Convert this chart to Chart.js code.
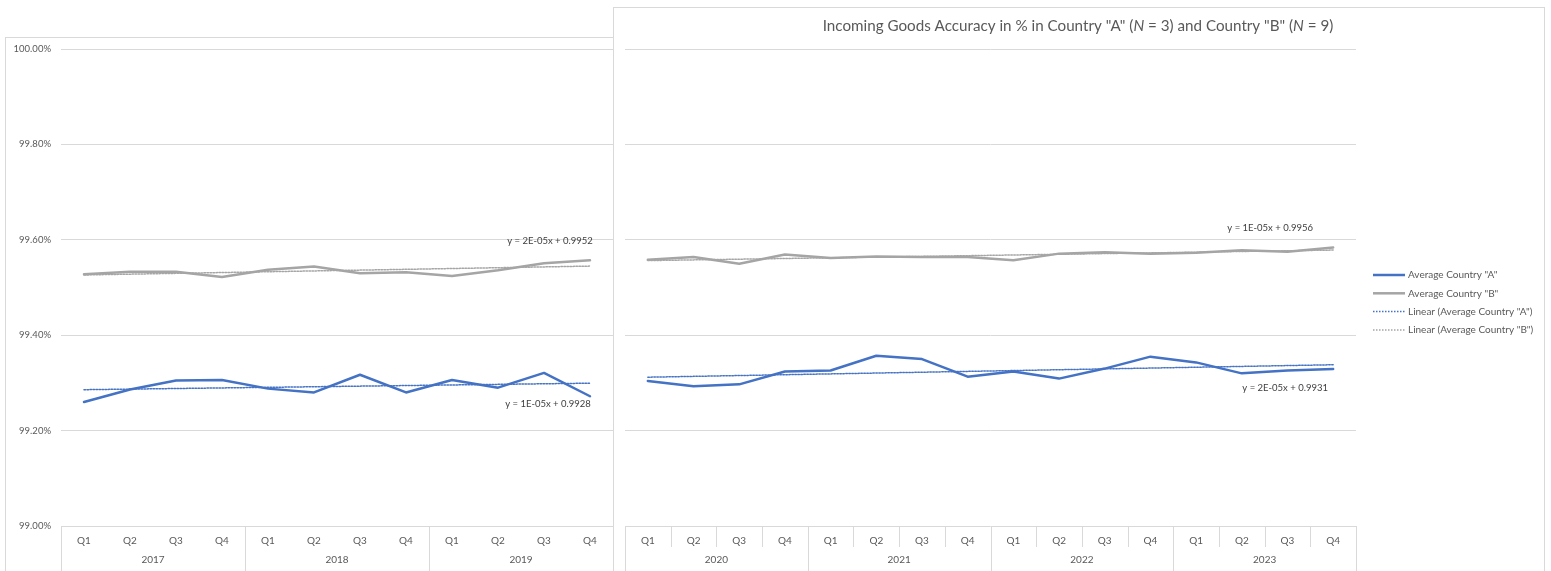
<!DOCTYPE html>
<html>
<head>
<meta charset="utf-8">
<script src="https://cdn.jsdelivr.net/npm/chart.js@4/dist/chart.umd.min.js"></script>
<style>
  html, body { margin: 0; padding: 0; background: #fff; width: 1551px; height: 571px; overflow: hidden; }
  .frame { position: absolute; border: 1px solid #d9d9d9; background: #fff; box-sizing: border-box; }
  #frameEarly { left: 5px; top: 37px; width: 700px; height: 600px; z-index: 1; }
  #frameLate { left: 613px; top: 7px; width: 932px; height: 600px; z-index: 2; }
  canvas { position: absolute; left: 0; top: 0; }
</style>
</head>
<body>
<div class="frame" id="frameEarly"><canvas id="chartEarly"></canvas></div>
<div class="frame" id="frameLate"><canvas id="chartLate"></canvas></div>
<script>
// ---- data: quarterly average incoming goods accuracy (%) ----
const quarters2017_2019 = ['Q1', 'Q2', 'Q3', 'Q4', 'Q1', 'Q2', 'Q3', 'Q4', 'Q1', 'Q2', 'Q3', 'Q4'];
const years2017_2019 = ['2017', '2018', '2019'];
const avgA_2017_2019 = [99.260, 99.286, 99.305, 99.306, 99.288, 99.280, 99.317, 99.280, 99.306, 99.290, 99.321, 99.272];
const avgB_2017_2019 = [99.528, 99.533, 99.533, 99.522, 99.537, 99.544, 99.530, 99.532, 99.524, 99.536, 99.551, 99.557];
const equations2017_2019 = ['y = 1E-05x + 0.9928', 'y = 2E-05x + 0.9952'];

const quarters2020_2023 = ['Q1', 'Q2', 'Q3', 'Q4', 'Q1', 'Q2', 'Q3', 'Q4', 'Q1', 'Q2', 'Q3', 'Q4', 'Q1', 'Q2', 'Q3', 'Q4'];
const years2020_2023 = ['2020', '2021', '2022', '2023'];
const avgA_2020_2023 = [99.304, 99.293, 99.297, 99.324, 99.326, 99.357, 99.350, 99.313, 99.324, 99.309, 99.330, 99.355, 99.343, 99.320, 99.326, 99.329];
const avgB_2020_2023 = [99.558, 99.564, 99.550, 99.569, 99.562, 99.565, 99.564, 99.564, 99.557, 99.571, 99.574, 99.571, 99.573, 99.578, 99.575, 99.584];
const equations2020_2023 = ['y = 2E-05x + 0.9931', 'y = 1E-05x + 0.9956'];

const seriesNames = ['Average Country "A"', 'Average Country "B"'];
const trendNames = ['Linear (Average Country "A")', 'Linear (Average Country "B")'];
const titleParts = [
  ['Incoming Goods Accuracy in % in Country "A" (', false],
  ['N', true],
  [' = 3) and Country "B" (', false],
  ['N', true],
  [' = 9)', false]
];
const yMin = 99.0, yMax = 100.0, yStep = 0.2;

// ---- styling ----
const FONT = 'Lato, "Liberation Sans", "DejaVu Sans", sans-serif';
const BLUE = '#4472C4';
const GREY = '#A5A5A5';
const TEXT = '#595959';
const GRID = '#d9d9d9';

// Least-squares linear trend over x = 1..n (as a spreadsheet trendline does)
function linearTrend(values) {
  const n = values.length;
  const mx = (n + 1) / 2;
  const my = values.reduce((a, b) => a + b, 0) / n;
  let sxy = 0, sxx = 0;
  values.forEach((v, i) => { const dx = i + 1 - mx; sxy += dx * (v - my); sxx += dx * dx; });
  const slope = sxy / sxx;
  return values.map((_, i) => my + slope * (i + 1 - mx));
}

function buildDatasets(a, b) {
  return [
    { label: seriesNames[0], data: a, borderColor: BLUE, borderWidth: 2.5, order: 1 },
    { label: seriesNames[1], data: b, borderColor: GREY, borderWidth: 2.5, order: 1 },
    { label: trendNames[0], data: linearTrend(a), borderColor: BLUE, borderWidth: 1.5, borderDash: [1.5, 1.5], order: 0 },
    { label: trendNames[1], data: linearTrend(b), borderColor: GREY, borderWidth: 1.5, borderDash: [1.5, 1.5], order: 0 }
  ].map(d => Object.assign({ tension: 0, pointRadius: 0, fill: false, borderCapStyle: 'round', borderJoinStyle: 'round' }, d));
}

// Category separators, year labels, trend equations, title and legend
const decorPlugin = {
  id: 'decor',
  afterDraw(chart, args, o) {
    const ctx = chart.ctx;
    const xs = chart.scales.x, ys = chart.scales.y;
    const area = chart.chartArea;
    const n = chart.data.labels.length;
    const step = xs.getPixelForValue(1) - xs.getPixelForValue(0);
    ctx.save();
    ctx.strokeStyle = GRID;
    ctx.lineWidth = 1;
    for (let i = 0; i <= n; i++) {
      const isYear = i % 4 === 0;
      if (!isYear && !o.quarterSeparators) continue;
      const px = Math.round(xs.getPixelForValue(0) - step / 2 + i * step) + 0.5;
      const len = isYear ? o.yearSepLength : o.quarterSepLength;
      ctx.beginPath();
      ctx.moveTo(px, area.bottom);
      ctx.lineTo(px, area.bottom + len);
      ctx.stroke();
    }
    ctx.fillStyle = TEXT;
    ctx.font = '10px ' + FONT;
    ctx.textAlign = 'center';
    ctx.textBaseline = 'middle';
    o.years.forEach((yr, k) => {
      const cx = (xs.getPixelForValue(4 * k) + xs.getPixelForValue(4 * k + 3)) / 2;
      ctx.fillText(yr, cx, area.bottom + o.yearOffset);
    });
    // trend equations placed next to the end of each trendline
    ctx.fillStyle = '#404040';
    ctx.font = '9.5px ' + FONT;
    o.equations.forEach((eq, k) => {
      const trend = chart.data.datasets[2 + k].data;
      const last = trend.length - 1;
      const px = xs.getPixelForValue(last) + o.eqOffsets[k][0];
      const py = ys.getPixelForValue(trend[last]) + o.eqOffsets[k][1];
      ctx.fillText(eq, px, py);
    });
    if (o.title) {
      let total = 0;
      const fontFor = it => (it ? 'italic ' : '') + '15.2px ' + FONT;
      titleParts.forEach(([t, it]) => { ctx.font = fontFor(it); total += ctx.measureText(t).width; });
      let tx = o.title.x - total / 2;
      ctx.fillStyle = TEXT;
      ctx.textAlign = 'left';
      titleParts.forEach(([t, it]) => {
        ctx.font = fontFor(it);
        ctx.fillText(t, tx, o.title.y);
        tx += ctx.measureText(t).width;
      });
    }
    if (o.legend) {
      ctx.textAlign = 'left';
      ctx.font = '10px ' + FONT;
      chart.data.datasets.forEach((ds, i) => {
        const ly = o.legend.y + i * o.legend.gap;
        ctx.save();
        ctx.strokeStyle = ds.borderColor;
        ctx.lineWidth = ds.borderDash ? 1.5 : 2.5;
        ctx.setLineDash(ds.borderDash || []);
        ctx.beginPath();
        ctx.moveTo(o.legend.x, ly);
        ctx.lineTo(o.legend.x + 32, ly);
        ctx.stroke();
        ctx.restore();
        ctx.fillStyle = TEXT;
        ctx.fillText(ds.label, o.legend.x + 35, ly);
      });
    }
    ctx.restore();
  }
};

function makeChart(id, w, h, labels, a, b, cfg) {
  const canvas = document.getElementById(id);
  canvas.width = w; canvas.height = h;
  canvas.style.width = w + 'px'; canvas.style.height = h + 'px';
  return new Chart(canvas, {
    type: 'line',
    data: { labels: labels, datasets: buildDatasets(a, b) },
    plugins: [decorPlugin],
    options: {
      responsive: false,
      animation: false,
      devicePixelRatio: 1,
      layout: { padding: cfg.padding },
      plugins: { legend: { display: false }, title: { display: false }, tooltip: { enabled: false }, decor: cfg.decor },
      scales: {
        x: {
          type: 'category',
          offset: true,
          grid: { display: false, drawTicks: false },
          border: { display: false },
          ticks: { color: TEXT, font: { family: FONT, size: 10 }, padding: 9, autoSkip: false, maxRotation: 0 },
          afterFit: s => { s.height = 45; s.paddingLeft = 0; s.paddingRight = 0; }
        },
        y: {
          min: yMin, max: yMax,
          grid: { color: GRID, drawTicks: false, lineWidth: 1 },
          border: { display: false },
          ticks: {
            display: cfg.yLabels, stepSize: yStep, color: TEXT, padding: 10,
            font: { family: FONT, size: 9.5 },
            callback: v => v.toFixed(2) + '%'
          },
          afterFit: s => { s.width = cfg.yWidth; s.paddingTop = 0; s.paddingBottom = 0; }
        }
      }
    }
  });
}

makeChart('chartEarly', 607, 533, quarters2017_2019, avgA_2017_2019, avgB_2017_2019, {
  padding: { top: 11, right: 0, bottom: 0, left: 0 },
  yLabels: true, yWidth: 55,
  decor: {
    years: years2017_2019, quarterSeparators: false, yearSepLength: 45, quarterSepLength: 0, yearOffset: 34,
    equations: [equations2017_2019[0], equations2017_2019[1]],
    eqOffsets: [[-42, 21], [-40, -25]]
  }
});

makeChart('chartLate', 931, 563, quarters2020_2023, avgA_2020_2023, avgB_2020_2023, {
  padding: { top: 41, right: 189, bottom: 0, left: 0 },
  yLabels: false, yWidth: 11,
  decor: {
    years: years2020_2023, quarterSeparators: true, yearSepLength: 45, quarterSepLength: 21, yearOffset: 34,
    equations: [equations2020_2023[0], equations2020_2023[1]],
    eqOffsets: [[-48, 23], [-63, -22]],
    title: { x: 464, y: 18 },
    legend: { x: 759, y: 267, gap: 18.3 }
  }
});
</script>
</body>
</html>
